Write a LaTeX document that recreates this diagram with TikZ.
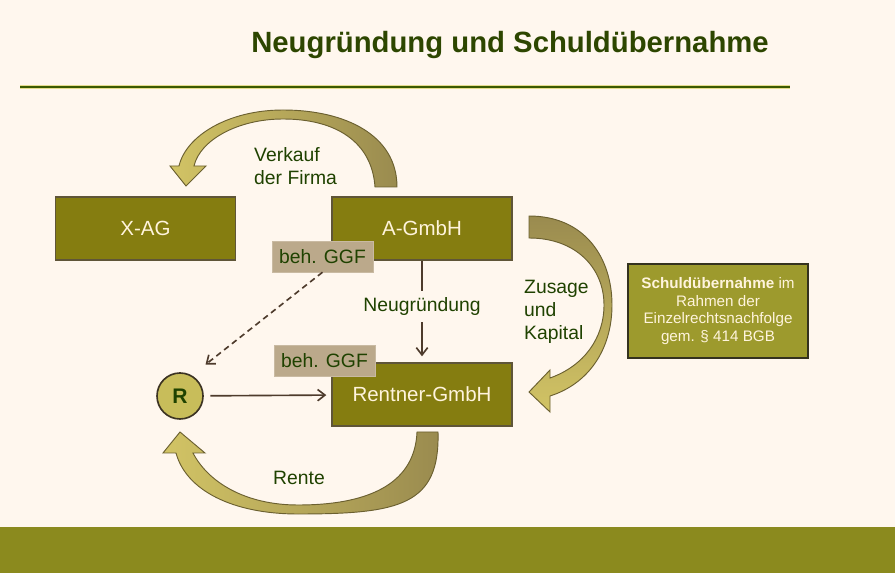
\documentclass[tikz,border=0pt]{standalone}
\usepackage{fontspec}
\setmainfont{Liberation Sans}
\usepackage{tikz}
\usetikzlibrary{arrows.meta, positioning}

\definecolor{cream}{HTML}{FFF7EE}
\definecolor{bandolive}{HTML}{8B8A1E}
\definecolor{titlegreen}{HTML}{2D4600}
\definecolor{rulegreen}{HTML}{3B5A00}
\definecolor{ruleglow}{HTML}{E6DC8C}
\definecolor{boxolive}{HTML}{857D10}
\definecolor{boxline}{HTML}{5F5538}
\definecolor{boxtext}{HTML}{FFF4DC}
\definecolor{tagtan}{HTML}{BBA98B}
\definecolor{labgreen}{HTML}{1F4200}
\definecolor{noteolive}{HTML}{9D9A2D}
\definecolor{noteline}{HTML}{34321E}
\definecolor{personfill}{HTML}{C8BD5A}
\definecolor{personline}{HTML}{3C3322}
\definecolor{arrowbrown}{HTML}{4E3B2C}
\definecolor{fattan}{HTML}{9A8B4F}
\definecolor{fatyellow}{HTML}{D2C465}
\definecolor{fatline}{HTML}{6B6030}

\tikzset{
    firm/.style={draw=boxline, line width=1.2pt, fill=boxolive, text=boxtext,
        minimum width=5.4cm, minimum height=1.89cm, font=\fontsize{17.5}{20}\selectfont},
    ggf/.style={draw=tagtan!80!white, fill=tagtan, text=labgreen, inner sep=0pt,
        minimum width=3.03cm, minimum height=0.93cm, font=\fontsize{16.5}{19}\selectfont},
    lab/.style={text=labgreen, align=left, inner sep=0pt, font=\fontsize{16.5}{19.5}\selectfont},
    person/.style={circle, draw=personline, line width=1.4pt, fill=personfill, text=labgreen,
        minimum size=1.38cm, inner sep=0pt, font=\fontsize{18}{20}\selectfont\bfseries},
    note/.style={draw=noteline, line width=1.5pt, fill=noteolive, text=boxtext, align=center,
        minimum width=5.4cm, minimum height=2.82cm, font=\fontsize{13}{15.2}\selectfont},
    thinarrow/.style={draw=arrowbrown, line width=1.4pt, -{Straight Barb[length=2.2mm, width=3.4mm]}},
    fatarrow/.style={draw=fatline, line width=0.8pt},
}

\begin{document}
\begin{tikzpicture}[x=0.03cm, y=-0.03cm]
    \useasboundingbox (0,0) rectangle (895,573);
    \fill[cream] (0,0) rectangle (895,573);
    \fill[bandolive] (0,527) rectangle (895,573);

    % title
    \node[text=titlegreen, font=\fontsize{25}{29}\selectfont\bfseries] (title) at (510,45) {Neugründung und Schuldübernahme};
    \draw[ruleglow, line width=3.5pt] (20,87) -- (790,87);
    \draw[rulegreen, line width=1.5pt] (20,87) -- (790,87);

    % curved arrows
    \path[fatarrow, left color=fatyellow, right color=fattan]
        (375,187) -- (397,187) .. controls (397,135) and (345,110) .. (283,110)
        .. controls (228,110) and (186,136) .. (179,166) -- (170,166) -- (186,186) -- (206,166) -- (194,166)
        .. controls (200,140) and (238,119) .. (283,119) .. controls (336,119) and (372,142) .. (375,187) -- cycle;
    \path[fatarrow, top color=fattan, bottom color=fatyellow]
        (529,216) .. controls (585,216) and (612,258) .. (612,305)
        .. controls (612,350) and (588,384) .. (550,396) -- (550,412) -- (529,392) -- (550,370) -- (550,378)
        .. controls (584,366) and (604,338) .. (604,305) .. controls (604,268) and (576,238) .. (529,238) -- cycle;
    \path[fatarrow, left color=fatyellow, right color=fattan]
        (417,432) -- (438,432) .. controls (440,505) and (400,514) .. (298,514)
        .. controls (232,514) and (186,490) .. (176,453) -- (163,453) -- (180,432) -- (205,453) -- (193,453)
        .. controls (208,482) and (245,505) .. (298,505) .. controls (375,505) and (415,480) .. (417,432) -- cycle;

    % firms
    \node[firm] (xag) at (145.5,228.5) {X-AG};
    \node[firm] (agmbh) at (422,228.5) {A-GmbH};
    \node[firm] (rentner) at (422,394.5) {Rentner-GmbH};
    \node[ggf] (ggfa) at (322.5,256.5) {beh. GGF};
    \node[ggf] (ggfb) at (324.5,361) {beh. GGF};
    \node[person] (r) at (180,396) {R};
    \node[note] (note) at (718,311) {\textbf{Schuldübernahme} im\\Rahmen der\\Einzelrechtsnachfolge\\gem. § 414 BGB};

    % labels
    \node[lab, anchor=west] (verkauf) at (254,166) {Verkauf\\der Firma};
    \node[lab, anchor=west] (zusage) at (524,312) {Zusage\\und\\Kapital};
    \node[lab] (rente) at (299,478) {Rente};

    % connectors
    \draw[thinarrow, shorten >=0.18cm] (agmbh) -- node[lab, pos=0.45, fill=cream, inner xsep=2pt, inner ysep=0.2cm] (neu) {Neugründung} (rentner);
    \draw[thinarrow, shorten <=0.2cm, shorten >=0.15cm] (r) -- (rentner);
    \draw[thinarrow, dash pattern={on 5pt off 3.5pt}, shorten >=0.52cm] (ggfa.south) -- (r.60);
\end{tikzpicture}
\end{document}
